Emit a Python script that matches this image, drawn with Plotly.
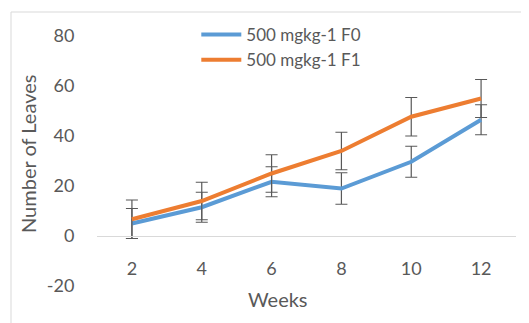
import plotly.graph_objects as go

weeks = ["2", "4", "6", "8", "10", "12"]
f0_values = [5, 11.5, 21.7, 19, 29.7, 46.5]
f0_errors = [6, 6, 6, 6.3, 6.2, 6]
f1_values = [6.7, 14, 25, 34, 47.7, 55]
f1_errors = [7.7, 7.5, 7.5, 7.5, 7.7, 7.6]
series_names = ["500 mgkg-1 F0", "500 mgkg-1 F1"]
y_tick_values = [-20, 0, 20, 40, 60, 80]
y_tick_labels = ["-20", "0", "20", "40", "60", "80"]

FONT = "Lato, Liberation Sans, sans-serif"
GRAY = "#595959"

fig = go.Figure()
fig.add_trace(go.Scatter(
    x=weeks, y=f0_values, name=series_names[0], mode="lines",
    line=dict(color="#5B9BD5", width=4),
    error_y=dict(type="data", array=f0_errors, color=GRAY, thickness=1.2, width=6),
))
fig.add_trace(go.Scatter(
    x=weeks, y=f1_values, name=series_names[1], mode="lines",
    line=dict(color="#ED7D31", width=4),
    error_y=dict(type="data", array=f1_errors, color=GRAY, thickness=1.2, width=6),
))

# plot area in figure pixels: x 89..508, y 28..278 (page body adds 8px offset)
fig.update_layout(
    width=529, height=323,
    margin=dict(l=89, r=21, t=28, b=45, autoexpand=False),
    paper_bgcolor="white", plot_bgcolor="white",
    font=dict(family=FONT, size=16, color=GRAY),
    showlegend=True,
    legend=dict(x=0.237, y=1.076, xanchor="left", yanchor="top",
                bgcolor="rgba(0,0,0,0)", font=dict(size=17, color=GRAY),
                tracegroupgap=0, itemwidth=40),
    xaxis=dict(type="category", anchor="free", position=0.2, range=[-0.5, 5.5],
               showline=True, linecolor="#d9d9d9", linewidth=1,
               showgrid=False, zeroline=False,
               ticks="outside", ticklen=0, tickcolor="rgba(0,0,0,0)",
               ticklabelstandoff=16,
               tickfont=dict(size=18, color=GRAY)),
    yaxis=dict(range=[-20, 80], tickmode="array", tickvals=y_tick_values, ticktext=y_tick_labels,
               showgrid=False, zeroline=False, showline=False,
               ticks="outside", ticklen=0, tickcolor="rgba(0,0,0,0)",
               ticklabelstandoff=18,
               tickfont=dict(size=18, color=GRAY)),
    shapes=[
        dict(type="line", xref="paper", yref="paper", x0=-86/419, x1=1.1, y0=274/250, y1=274/250,
             line=dict(color="#d9d9d9", width=1)),
        dict(type="line", xref="paper", yref="paper", x0=-86/419, x1=-86/419, y0=-0.3, y1=274/250,
             line=dict(color="#d9d9d9", width=1)),
    ],
    annotations=[
        dict(text="Weeks", xref="paper", yref="paper", x=(278-97)/419, y=(286-299)/250,
             xanchor="center", yanchor="middle", showarrow=False,
             font=dict(size=20, color=GRAY)),
        dict(text="Number of Leaves", xref="paper", yref="paper", x=(28-97)/419, y=(286-154)/250,
             xanchor="center", yanchor="middle", showarrow=False, textangle=-90,
             font=dict(size=20, color=GRAY)),
    ],
)

fig.write_html("out.html")
